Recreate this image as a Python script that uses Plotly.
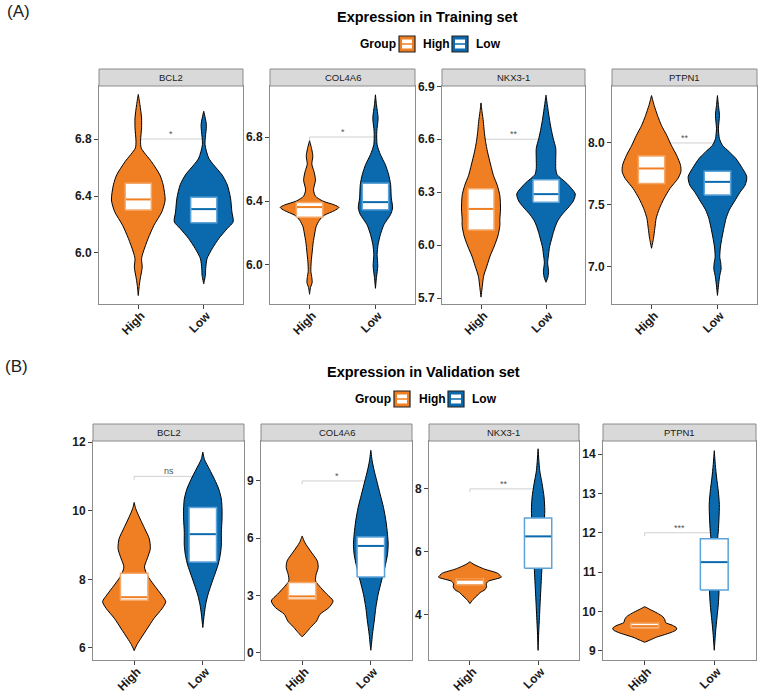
import plotly.graph_objects as go

# ---------------- data ----------------
genes = ["BCL2", "COL4A6", "NKX3-1", "PTPN1"]
groups = ["High", "Low"]

# Training set violin profiles (expression level, half-width in category units)
tr_bcl2_high_y = [7.113, 7.042, 6.948, 6.878, 6.784, 6.736, 6.642, 6.548, 6.478, 6.372, 6.289, 6.195, 6.101, 6.007, 5.960, 5.901, 5.819, 5.772, 5.701]
tr_bcl2_high_w = [0, 0.025, 0.05, 0.05, 0.035, 0.045, 0.2, 0.33, 0.38, 0.41, 0.36, 0.24, 0.15, 0.076, 0.05, 0.06, 0.03, 0.015, 0]
tr_bcl2_low_y = [6.995, 6.901, 6.760, 6.666, 6.619, 6.548, 6.478, 6.384, 6.289, 6.219, 6.172, 6.101, 6.031, 5.960, 5.889, 5.842, 5.784]
tr_bcl2_low_w = [0, 0.04, 0.02, 0.076, 0.15, 0.28, 0.36, 0.41, 0.43, 0.45, 0.36, 0.23, 0.13, 0.05, 0.03, 0.025, 0]
tr_col_high_y = [6.777, 6.73, 6.68, 6.63, 6.58, 6.53, 6.47, 6.43, 6.40, 6.375, 6.36, 6.34, 6.31, 6.28, 6.24, 6.20, 6.14, 6.08, 6.02, 5.96, 5.92, 5.89, 5.86, 5.817]
tr_col_high_w = [0, 0.03, 0.05, 0.035, 0.07, 0.09, 0.06, 0.09, 0.2, 0.38, 0.445, 0.38, 0.22, 0.15, 0.10, 0.08, 0.055, 0.04, 0.025, 0.02, 0.035, 0.04, 0.015, 0]
tr_col_low_y = [7.064, 7.002, 6.918, 6.835, 6.752, 6.690, 6.627, 6.565, 6.503, 6.420, 6.357, 6.316, 6.253, 6.191, 6.128, 6.066, 5.993, 5.921, 5.854]
tr_col_low_w = [0, 0.015, 0.04, 0.02, 0.025, 0.076, 0.15, 0.20, 0.23, 0.24, 0.26, 0.23, 0.13, 0.076, 0.04, 0.025, 0.035, 0.015, 0]
tr_nkx_high_y = [6.806, 6.758, 6.701, 6.644, 6.587, 6.529, 6.453, 6.396, 6.339, 6.281, 6.205, 6.148, 6.110, 6.052, 5.995, 5.938, 5.881, 5.823, 5.766, 5.705]
tr_nkx_high_w = [0, 0.015, 0.036, 0.05, 0.07, 0.10, 0.15, 0.19, 0.25, 0.29, 0.30, 0.29, 0.29, 0.26, 0.205, 0.14, 0.09, 0.04, 0.02, 0]
tr_nkx_low_y = [6.850, 6.797, 6.720, 6.663, 6.606, 6.548, 6.491, 6.434, 6.40, 6.35, 6.29, 6.25, 6.22, 6.17, 6.13, 6.08, 6.04, 5.99, 5.95, 5.90, 5.85, 5.82, 5.789]
tr_nkx_low_w = [0, 0.02, 0.05, 0.077, 0.11, 0.15, 0.15, 0.15, 0.17, 0.32, 0.45, 0.42, 0.36, 0.24, 0.17, 0.12, 0.09, 0.055, 0.04, 0.025, 0.04, 0.03, 0]
tr_ptp_high_y = [8.383, 8.303, 8.223, 8.142, 8.062, 7.981, 7.901, 7.820, 7.767, 7.713, 7.633, 7.552, 7.472, 7.391, 7.311, 7.231, 7.150]
tr_ptp_high_w = [0, 0.04, 0.09, 0.15, 0.23, 0.30, 0.38, 0.44, 0.445, 0.40, 0.28, 0.19, 0.12, 0.07, 0.05, 0.03, 0]
tr_ptp_low_y = [8.383, 8.303, 8.223, 8.115, 8.035, 7.981, 7.928, 7.874, 7.794, 7.727, 7.66, 7.60, 7.53, 7.46, 7.39, 7.32, 7.24, 7.16, 7.08, 7.03, 6.98, 6.93, 6.87, 6.82, 6.769]
tr_ptp_low_w = [0, 0.015, 0.03, 0.015, 0.03, 0.076, 0.18, 0.28, 0.38, 0.445, 0.42, 0.34, 0.26, 0.18, 0.13, 0.10, 0.07, 0.045, 0.035, 0.05, 0.055, 0.035, 0.02, 0.01, 0]

# Validation set violin profiles
va_bcl2_high_y = [10.241, 10.048, 9.759, 9.470, 9.181, 8.892, 8.602, 8.361, 8.120, 7.831, 7.542, 7.349, 7.157, 6.867, 6.578, 6.289, 6.096, 5.923]
va_bcl2_high_w = [0, 0.024, 0.087, 0.155, 0.22, 0.235, 0.19, 0.15, 0.19, 0.29, 0.40, 0.46, 0.41, 0.29, 0.195, 0.10, 0.04, 0]
va_bcl2_low_y = [11.706, 11.494, 11.205, 10.916, 10.627, 10.337, 10.048, 9.759, 9.373, 8.988, 8.699, 8.410, 8.120, 7.831, 7.542, 7.253, 6.964, 6.598]
va_bcl2_low_w = [0, 0.024, 0.097, 0.17, 0.233, 0.27, 0.28, 0.28, 0.27, 0.27, 0.253, 0.22, 0.17, 0.12, 0.073, 0.04, 0.02, 0]
va_col_high_y = [6.122, 5.773, 5.337, 4.814, 4.465, 4.116, 3.767, 3.418, 3.070, 2.721, 2.372, 2.023, 1.674, 1.325, 1.064, 0.837]
va_col_high_w = [0, 0.039, 0.12, 0.22, 0.233, 0.204, 0.195, 0.27, 0.36, 0.45, 0.39, 0.26, 0.21, 0.12, 0.058, 0]
va_col_low_y = [10.605, 10.047, 9.523, 9.0, 8.302, 7.605, 6.907, 6.209, 5.686, 5.163, 4.465, 3.767, 3.070, 2.372, 1.674, 0.977, 0.453, 0.139]
va_col_low_w = [0, 0.02, 0.05, 0.087, 0.136, 0.185, 0.22, 0.243, 0.253, 0.243, 0.204, 0.155, 0.107, 0.073, 0.05, 0.024, 0.01, 0]
va_nkx_high_y = [5.687, 5.60, 5.54, 5.45, 5.33, 5.26, 5.20, 5.14, 5.07, 4.98, 4.90, 4.80, 4.71, 4.60, 4.49, 4.36]
va_nkx_high_w = [0, 0.06, 0.12, 0.22, 0.40, 0.44, 0.46, 0.38, 0.27, 0.24, 0.245, 0.22, 0.15, 0.10, 0.045, 0]
va_nkx_low_y = [9.273, 8.584, 8.159, 7.735, 7.310, 6.886, 6.462, 6.037, 5.613, 5.188, 4.764, 4.340, 3.915, 3.491, 2.875]
va_nkx_low_w = [0, 0.024, 0.059, 0.088, 0.098, 0.088, 0.073, 0.064, 0.059, 0.049, 0.039, 0.029, 0.02, 0.01, 0]
va_ptp_high_y = [10.123, 10.05, 9.96, 9.87, 9.79, 9.72, 9.65, 9.58, 9.53, 9.47, 9.41, 9.35, 9.28, 9.22]
va_ptp_high_w = [0, 0.08, 0.18, 0.26, 0.29, 0.30, 0.40, 0.46, 0.45, 0.38, 0.28, 0.17, 0.08, 0]
va_ptp_low_y = [14.084, 13.730, 13.392, 13.054, 12.716, 12.378, 12.041, 11.872, 11.534, 11.196, 10.858, 10.520, 10.182, 9.845, 9.507, 9.017]
va_ptp_low_w = [0, 0.015, 0.034, 0.058, 0.073, 0.068, 0.058, 0.049, 0.058, 0.068, 0.063, 0.068, 0.058, 0.039, 0.02, 0]

# Box statistics (per gene: BCL2, COL4A6, NKX3-1, PTPN1)
tr_high_q1 = [6.301, 6.299, 6.085, 7.673]
tr_high_med = [6.376, 6.362, 6.205, 7.794]
tr_high_q3 = [6.489, 6.390, 6.319, 7.895]
tr_low_q1 = [6.212, 6.345, 6.243, 7.579]
tr_low_med = [6.308, 6.393, 6.289, 7.686]
tr_low_q3 = [6.391, 6.511, 6.371, 7.772]
va_high_q1 = [7.39, 2.81, 4.96, 9.58]
va_high_med = [7.48, 2.96, 5.12, 9.63]
va_high_q3 = [8.18, 3.68, 5.15, 9.70]
va_low_q1 = [8.506, 3.977, 5.485, 10.546]
va_low_med = [9.316, 5.599, 6.493, 11.255]
va_low_q3 = [10.096, 6.070, 7.077, 11.846]

# Significance annotations
tr_sig_y = [6.8, 6.8, 6.6, 8.0]
tr_sig_lab = ["*", "*", "**", "**"]
va_sig_y = [11, 9, 8, 12]
va_sig_lab = ["ns", "*", "**", "***"]

# Axis ticks
tr_yticks = [[6.0, 6.4, 6.8], [6.0, 6.4, 6.8], [5.7, 6.0, 6.3, 6.6, 6.9], [7.0, 7.5, 8.0]]
va_yticks = [[6, 8, 10, 12], [0, 3, 6, 9], [4, 6, 8], [9, 10, 11, 12, 13, 14]]

titles = ["Expression in Training set", "Expression in Validation set"]
panel_tags = ["(A)", "(B)"]

# ---------------- style / layout ----------------
W, H = 760, 693
ORANGE = "#EF7F22"
BLUE = "#0B6AAD"
EDGE = {"High": "#F6A869", "Low": "#5CA3DA"}
FILL = {"High": ORANGE, "Low": BLUE}
FONT = "Liberation Sans, Arial, Helvetica, sans-serif"

tr_prof = {("High", 0): (tr_bcl2_high_y, tr_bcl2_high_w), ("Low", 0): (tr_bcl2_low_y, tr_bcl2_low_w),
           ("High", 1): (tr_col_high_y, tr_col_high_w), ("Low", 1): (tr_col_low_y, tr_col_low_w),
           ("High", 2): (tr_nkx_high_y, tr_nkx_high_w), ("Low", 2): (tr_nkx_low_y, tr_nkx_low_w),
           ("High", 3): (tr_ptp_high_y, tr_ptp_high_w), ("Low", 3): (tr_ptp_low_y, tr_ptp_low_w)}
va_prof = {("High", 0): (va_bcl2_high_y, va_bcl2_high_w), ("Low", 0): (va_bcl2_low_y, va_bcl2_low_w),
           ("High", 1): (va_col_high_y, va_col_high_w), ("Low", 1): (va_col_low_y, va_col_low_w),
           ("High", 2): (va_nkx_high_y, va_nkx_high_w), ("Low", 2): (va_nkx_low_y, va_nkx_low_w),
           ("High", 3): (va_ptp_high_y, va_ptp_high_w), ("Low", 3): (va_ptp_low_y, va_ptp_low_w)}

sections = [
    dict(prof=tr_prof,
         stats={"High": (tr_high_q1, tr_high_med, tr_high_q3), "Low": (tr_low_q1, tr_low_med, tr_low_q3)},
         sig=(tr_sig_y, tr_sig_lab), yticks=tr_yticks, fmt=".1f",
         yranges=[[5.642, 7.172], [5.756, 7.119], [5.666, 6.902], [6.70, 8.46]],
         xdom=[(99, 243), (270, 415), (442, 585), (612, 757)], ytop=86, ybot=304,
         title_xy=(427.5, 17), tag_xy=(5, 12), legend_y=44, legend_x=(358, 399, 421, 452, 474)),
    dict(prof=va_prof,
         stats={"High": (va_high_q1, va_high_med, va_high_q3), "Low": (va_low_q1, va_low_med, va_low_q3)},
         sig=(va_sig_y, va_sig_lab), yticks=va_yticks, fmt="d",
         yranges=[[5.65, 12.03], [-0.37, 11.09], [2.57, 9.52], [8.77, 14.33]],
         xdom=[(93, 244), (261, 412), (429, 579), (603, 756)], ytop=441, ybot=660,
         title_xy=(423.5, 371.5), tag_xy=(3, 366), legend_y=399, legend_x=(353, 394, 417, 448, 470)),
]

STRIP_H = 17
BOX_W = 0.4


def px(x):
    return x / W


def py(y):
    return 1 - y / H


def note(x, y, text, size, color="black", xanchor="center", **kw):
    return dict(x=px(x), y=py(y), xref="paper", yref="paper", text=text, showarrow=False,
                xanchor=xanchor, yanchor="middle", font=dict(size=size, color=color, family=FONT), **kw)


fig = go.Figure()
layout = dict(width=W, height=H, margin=dict(l=0, r=0, t=0, b=0, autoexpand=False), paper_bgcolor="white",
              plot_bgcolor="white", showlegend=False, font=dict(family=FONT))
shapes, annotations = [], []

for s, sec in enumerate(sections):
    for g in range(4):
        k = s * 4 + g + 1
        xa = "x" if k == 1 else f"x{k}"
        ya = "y" if k == 1 else f"y{k}"
        x0, x1 = sec["xdom"][g]
        yr = sec["yranges"][g]
        span = yr[1] - yr[0]
        # significance bracket (under violins)
        sy, lab = sec["sig"][0][g], sec["sig"][1][g]
        d = 0.015 * span
        fig.add_trace(go.Scatter(x=[1, 1, 2, 2], y=[sy - d, sy, sy, sy - d], mode="lines",
                                 line=dict(color="#C4C4C4", width=0.8), xaxis=xa, yaxis=ya,
                                 hoverinfo="skip"))
        annotations.append(dict(x=1.5, y=sy, xref=xa, yref=ya, text=lab, showarrow=False,
                                xanchor="center", yanchor="bottom", yshift=-2,
                                font=dict(size=9, color="#555555", family=FONT)))
        for gi, grp in enumerate(groups):
            c = gi + 1
            ys, ws = sec["prof"][(grp, g)]
            xr = [c + w for w in ws]
            xl = [c - w for w in ws]
            xs = xr + xl[::-1]
            yy = list(ys) + list(ys)[::-1]
            fig.add_trace(go.Scatter(x=xs + [xs[0]], y=yy + [yy[0]], mode="lines", fill="toself",
                                     fillcolor=FILL[grp], line=dict(color="black", width=1, shape="spline", smoothing=0.7),
                                     xaxis=xa, yaxis=ya, hoverinfo="skip"))
        for gi, grp in enumerate(groups):
            c = gi + 1
            q1, med, q3 = (sec["stats"][grp][0][g], sec["stats"][grp][1][g], sec["stats"][grp][2][g])
            bl, br = c - BOX_W / 2, c + BOX_W / 2
            fig.add_trace(go.Scatter(x=[bl, br, br, bl, bl], y=[q1, q1, q3, q3, q1], mode="lines", fill="toself",
                                     fillcolor="white", line=dict(color=EDGE[grp], width=1.5),
                                     xaxis=xa, yaxis=ya, hoverinfo="skip"))
            fig.add_trace(go.Scatter(x=[bl + 0.01, br - 0.01], y=[med, med], mode="lines",
                                     line=dict(color=FILL[grp], width=2), xaxis=xa, yaxis=ya, hoverinfo="skip"))

        axcommon = dict(showgrid=False, zeroline=False, showline=True, linecolor="#8C8C8C", linewidth=1,
                        mirror=True, ticks="outside", ticklen=4, tickwidth=1, tickcolor="#444444",
                        automargin=False,
                        tickfont=dict(size=12, color="#1A1A1A", family=FONT, weight="bold"))
        layout["xaxis" if k == 1 else f"xaxis{k}"] = dict(
            axcommon, domain=[px(x0), px(x1)], range=[0.4, 2.6], tickvals=[1, 2], ticktext=groups,
            tickangle=-45, ticklabelstandoff=-5, ticklabelshift=3, anchor=ya, fixedrange=True)
        layout["yaxis" if k == 1 else f"yaxis{k}"] = dict(
            axcommon, domain=[py(sec["ybot"]), py(sec["ytop"])], range=yr, tickvals=sec["yticks"][g],
            tickformat=sec["fmt"], anchor=xa, fixedrange=True)
        # strip
        shapes.append(dict(type="rect", xref="paper", yref="paper", x0=px(x0), x1=px(x1),
                           y0=py(sec["ytop"]), y1=py(sec["ytop"] - STRIP_H),
                           fillcolor="#D9D9D9", line=dict(color="#8C8C8C", width=1)))
        annotations.append(note((x0 + x1) / 2, sec["ytop"] - STRIP_H / 2, genes[g], 9.5, "#1A1A1A"))

    # title, tag, legend
    tx, ty = sec["title_xy"]
    annotations.append(note(tx, ty, "<b>%s</b>" % titles[s], 14.5))
    ax, ay = sec["tag_xy"]
    annotations.append(note(ax, ay, panel_tags[s], 17, "#222222", xanchor="left"))
    ly = sec["legend_y"]
    gx, bx1, tx1, bx2, tx2 = sec["legend_x"]
    annotations.append(note(gx, ly, "<b>Group</b>", 12, xanchor="left"))
    for bxx, txx, grp in ((bx1, tx1, "High"), (bx2, tx2, "Low")):
        shapes.append(dict(type="rect", xref="paper", yref="paper", x0=px(bxx), x1=px(bxx + 16),
                           y0=py(ly + 8), y1=py(ly - 8), fillcolor=FILL[grp], line=dict(color="#222222", width=1.2)))
        shapes.append(dict(type="rect", xref="paper", yref="paper", x0=px(bxx + 3), x1=px(bxx + 13),
                           y0=py(ly + 4.5), y1=py(ly - 4.5), fillcolor="white", line=dict(width=0)))
        shapes.append(dict(type="line", xref="paper", yref="paper", x0=px(bxx + 3), x1=px(bxx + 13),
                           y0=py(ly), y1=py(ly), line=dict(color=FILL[grp], width=1.5)))
        annotations.append(note(txx, ly, "<b>%s</b>" % grp, 12, xanchor="left"))

layout["shapes"] = shapes
layout["annotations"] = annotations
fig.update_layout(**layout)
fig.write_html("out.html")
